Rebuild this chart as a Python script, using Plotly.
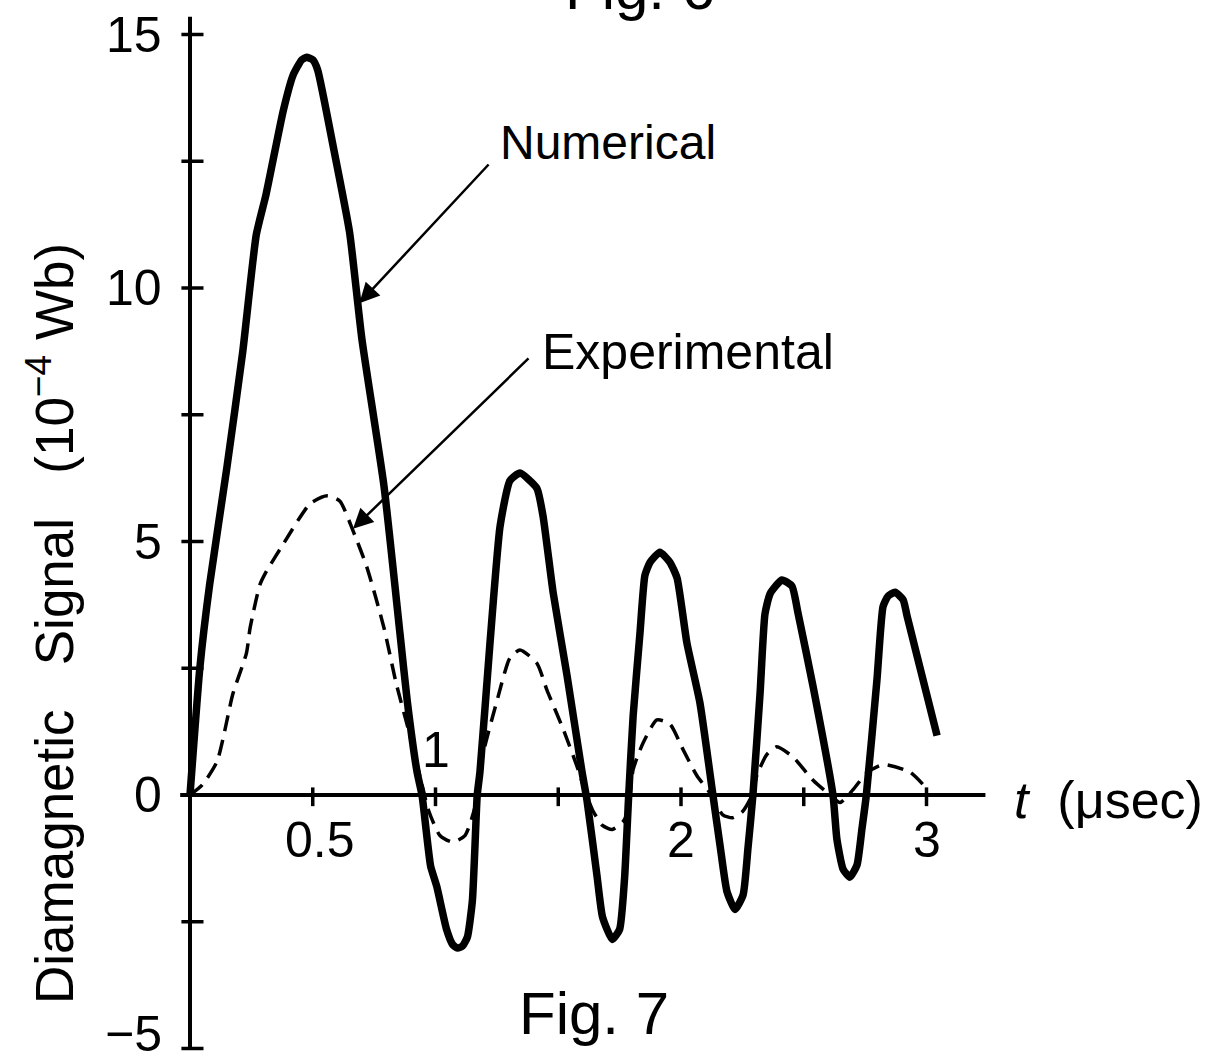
import plotly.graph_objects as go

# ---------------- data ----------------
num_t = [0.00, 0.04, 0.08, 0.15, 0.215, 0.27, 0.31, 0.38, 0.42, 0.455, 0.475, 0.50, 0.52,
         0.585, 0.65, 0.70, 0.79, 0.855, 0.885, 0.925, 0.945, 0.98, 1.005, 1.045, 1.07,
         1.09, 1.11, 1.13, 1.15, 1.16, 1.17, 1.181, 1.222, 1.263, 1.303, 1.344, 1.413,
         1.438, 1.479, 1.536, 1.597, 1.617, 1.658, 1.68, 1.72, 1.75, 1.77, 1.787,
         1.805, 1.833, 1.853, 1.874, 1.914, 1.955, 1.984, 2.024, 2.077, 2.13,
         2.16, 2.187, 2.22, 2.253, 2.273, 2.293, 2.322, 2.342, 2.363, 2.411, 2.452,
         2.477, 2.538, 2.619, 2.635, 2.66, 2.688, 2.717, 2.737, 2.755, 2.798, 2.823,
         2.843, 2.872, 2.905, 2.92, 2.986, 3.043]
num_v = [0.0, 2.5, 4.15, 6.45, 8.75, 11.05, 11.85, 13.5, 14.2, 14.5, 14.55, 14.5, 14.3,
         12.75, 11.1, 9.0, 6.1, 3.2, 1.85, 0.45, 0.0, -1.4, -1.8, -2.65, -2.95,
         -3.02, -2.98, -2.8, -2.1, -1.1, 0.0, 0.45, 3.0, 5.3, 6.2, 6.35, 6.05,
         5.5, 4.0, 2.35, 0.45, -0.1, -1.6, -2.4, -2.85, -2.65, -1.65, 0.0,
         1.56, 3.2, 4.33, 4.59, 4.79, 4.59, 4.28, 3.0, 1.82, 0.0,
         -1.03, -1.9, -2.26, -1.97, -1.04, 0.0, 2.0, 3.57, 3.97, 4.24, 4.12,
         3.58, 2.14, 0.0, -0.87, -1.46, -1.62, -1.38, -0.67, 0.0, 2.26, 3.72,
         3.92, 4.0, 3.85, 3.55, 2.27, 1.17]

exp_t = [0.00, 0.05, 0.11, 0.175, 0.23, 0.245, 0.285, 0.31, 0.38, 0.49, 0.56, 0.61, 0.665,
         0.72, 0.79, 0.84, 0.90, 0.94, 0.955, 0.97, 1.018, 1.07, 1.12, 1.16, 1.193,
         1.25, 1.303, 1.344, 1.413, 1.454, 1.52, 1.576, 1.615, 1.64, 1.68, 1.72, 1.765,
         1.785, 1.805, 1.845, 1.902, 1.955, 2.008, 2.065, 2.118, 2.17, 2.21, 2.25,
         2.29, 2.31, 2.35, 2.39, 2.456, 2.538, 2.607, 2.648, 2.70, 2.758, 2.823,
         2.933, 3.006]
exp_v = [0.0, 0.2, 0.66, 2.0, 2.8, 3.3, 4.15, 4.4, 4.95, 5.75, 5.9, 5.8, 5.2,
         4.5, 3.3, 2.2, 1.1, 0.3, 0.0, -0.28, -0.8, -0.93, -0.8, -0.25, 0.8,
         1.85, 2.7, 2.86, 2.6, 2.07, 1.3, 0.57, 0.0, -0.3, -0.6, -0.68, -0.52,
         -0.28, 0.5, 1.02, 1.48, 1.4, 0.9, 0.38, 0.04, -0.39, -0.45, -0.33,
         0.0, 0.4, 0.8, 0.95, 0.75, 0.29, 0.0, -0.15, 0.1, 0.44, 0.6,
         0.45, 0.1]

y_ticks = [-5, -2.5, 0, 2.5, 5, 7.5, 10, 12.5, 15]
y_labels = {-5: "\u22125", 0: "0", 5: "5", 10: "10", 15: "15"}
x_ticks = [0.5, 1.0, 1.5, 2.0, 2.5, 3.0]
x_labels = [(0.5, "0.5", "below"), (1.0, "1", "above"), (2.0, "2", "below"), (3.0, "3", "below")]

# ---------------- pixel calibration ----------------
W, H = 1220, 1063
X0, SX = 190.0, 245.5     # pixel of t=0, px per microsecond
Y0, SY = 795.0, 50.7      # pixel of v=0, px per unit


def tx(px):
    return (px - X0) / SX


def vy(py):
    return (Y0 - py) / SY


FONT = "Liberation Sans, Arial, sans-serif"

fig = go.Figure()

fig.add_trace(go.Scatter(x=num_t, y=num_v, mode="lines",
                         line=dict(color="black", width=7.5, shape="spline", smoothing=0.5),
                         hoverinfo="skip"))
fig.add_trace(go.Scatter(x=exp_t, y=exp_v, mode="lines",
                         line=dict(color="black", width=3.5, dash="16px,9px",
                                   shape="spline", smoothing=0.6),
                         hoverinfo="skip"))

shapes = []
# axes
shapes.append(dict(type="line", xref="x", yref="y", x0=0, x1=0, y0=-5, y1=15.35,
                   line=dict(color="black", width=4)))
shapes.append(dict(type="line", xref="x", yref="y", x0=-0.04, x1=3.24, y0=0, y1=0,
                   line=dict(color="black", width=4)))
for v in y_ticks:
    shapes.append(dict(type="line", xref="x", yref="y", x0=-0.035, x1=0.055, y0=v, y1=v,
                       line=dict(color="black", width=3.5)))
for t in x_ticks:
    shapes.append(dict(type="line", xref="x", yref="y", x0=t, x1=t, y0=-0.22, y1=0.15,
                       line=dict(color="black", width=3.5)))

ann = []
for v, lab in y_labels.items():
    yy = vy(1034) if v == -5 else v
    ann.append(dict(x=tx(164), y=yy, xref="x", yref="y", text=lab, showarrow=False,
                    xanchor="right", yanchor="middle", font=dict(size=50, family=FONT, color="black")))
for t, lab, pos in x_labels:
    ann.append(dict(x=t + (0.03 if lab == "0.5" else 0), y=(vy(750) if pos == "above" else vy(840)),
                    xref="x", yref="y", text=lab, showarrow=False,
                    xanchor="center", yanchor="middle", font=dict(size=50, family=FONT, color="black")))

# axis titles
ann.append(dict(x=tx(1012), y=vy(800), xref="x", yref="y",
                text="<i>t</i>\u00a0\u00a0(\u03bcsec)", showarrow=False,
                xanchor="left", yanchor="middle", font=dict(size=52, family=FONT, color="black")))
ann.append(dict(x=tx(50), y=vy(624), xref="x", yref="y",
                text="Diamagnetic\u00a0\u00a0\u00a0Signal\u00a0\u00a0\u00a0(10<sup>\u22124</sup>\u00a0Wb)",
                textangle=-90, showarrow=False, xanchor="center", yanchor="middle",
                font=dict(size=53, family=FONT, color="black")))

# curve labels with arrows
ann.append(dict(x=tx(498), y=vy(142), xref="x", yref="y", text="Numerical", showarrow=False,
                xanchor="left", yanchor="middle", font=dict(size=48, family=FONT, color="black")))
ann.append(dict(x=tx(540), y=vy(352), xref="x", yref="y", text="Experimental", showarrow=False,
                xanchor="left", yanchor="middle", font=dict(size=50, family=FONT, color="black")))
ann.append(dict(x=0.69, y=9.7, xref="x", yref="y", ax=tx(490), ay=vy(163), axref="x", ayref="y",
                text="", showarrow=True, arrowhead=2, arrowsize=1.6, arrowwidth=2.5,
                arrowcolor="black", standoff=0))
ann.append(dict(x=0.664, y=5.25, xref="x", yref="y", ax=tx(530), ay=vy(357), axref="x", ayref="y",
                text="", showarrow=True, arrowhead=2, arrowsize=1.6, arrowwidth=2.5,
                arrowcolor="black", standoff=0))

# figure captions
ann.append(dict(x=tx(594), y=vy(1013), xref="x", yref="y", text="Fig. 7", showarrow=False,
                xanchor="center", yanchor="middle", font=dict(size=60, family=FONT, color="black")))
ann.append(dict(x=640 / W, y=1 + 12 / H, xref="paper", yref="paper", text="Fig. 6", showarrow=False,
                xanchor="center", yanchor="middle", font=dict(size=60, family=FONT, color="black")))

fig.update_layout(
    width=W, height=H,
    margin=dict(l=0, r=0, t=0, b=0),
    paper_bgcolor="white", plot_bgcolor="white",
    showlegend=False,
    xaxis=dict(visible=False, range=[tx(0), tx(W)], fixedrange=True),
    yaxis=dict(visible=False, range=[vy(H), vy(0)], fixedrange=True),
    shapes=shapes, annotations=ann,
)

fig.write_html("out.html")
